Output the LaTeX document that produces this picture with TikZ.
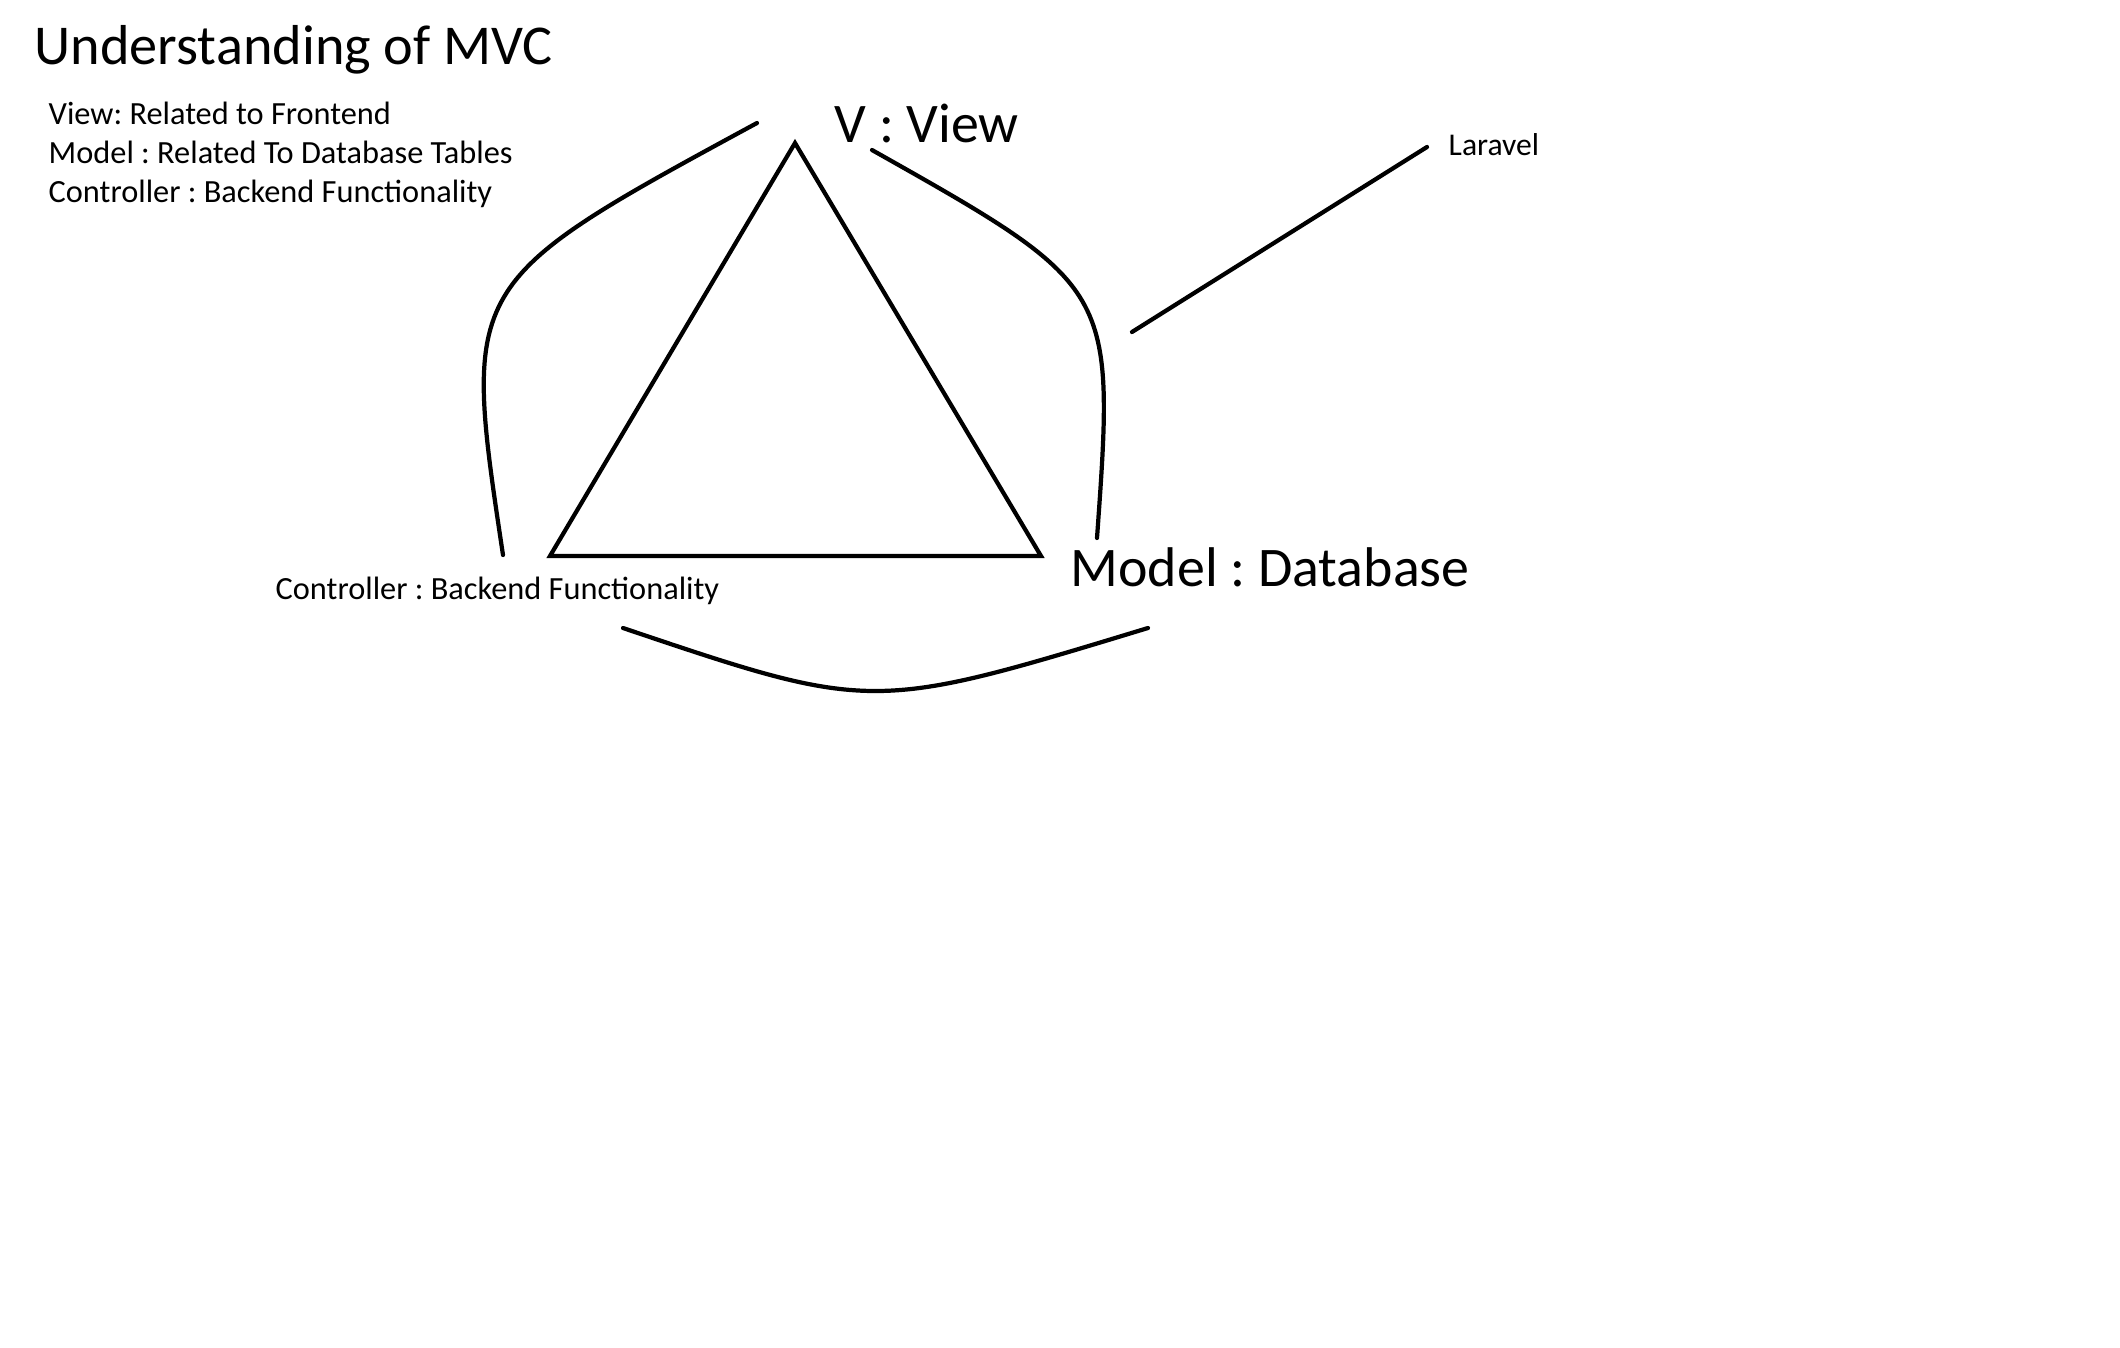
\documentclass[tikz,border=0pt]{standalone}
\usepackage{fontspec}
\setmainfont{Carlito}
\usepackage{tikz}
\frenchspacing

\begin{document}
\begin{tikzpicture}[x=0.01cm,y=-0.01cm,
  big/.style={anchor=base west,inner sep=0pt,font=\fontsize{15.9pt}{18pt}\selectfont},
  small/.style={anchor=base west,inner sep=0pt,font=\fontsize{9.2pt}{11pt}\selectfont},
  pen/.style={line width=1.2pt,line cap=round}]
\useasboundingbox (0,0) rectangle (2120,1348);
\node[big,font=\fontsize{16pt}{18pt}\selectfont] (T) at (34,64) {Understanding of MVC};
\node[small] (v) at (48,124) {View: Related to Frontend};
\node[small] (m) at (48,163) {Model : Related To Database Tables};
\node[small] (c) at (48,202) {Controller : Backend Functionality};
\node[big] (V) at (834,142) {V : View};
\node[big] (M) at (1070,586) {Model : Database};
\node[small] (C) at (275,599) {Controller : Backend Functionality};
\node[small,font=\fontsize{9pt}{11pt}\selectfont] (L) at (1448,155) {Laravel};
\coordinate (1) at (795,143);
\coordinate (2) at (550,556);
\coordinate (3) at (1041,556);
\coordinate (a) at (757,123);
\coordinate (b) at (503,555);
\coordinate (p) at (872,150);
\coordinate (q) at (1097,538);
\coordinate (s) at (623,628);
\coordinate (t) at (1148,628);
\coordinate (x) at (1132,332);
\coordinate (y) at (1427,147);
\draw[pen,line join=miter] (1) -- (2) -- (3) -- cycle;
\draw[pen] (a) .. controls (462,283) .. (b);
\draw[pen] (p) .. controls (1115,287) .. (q);
\draw[pen] (s) .. controls (872,712) .. (t);
\draw[pen] (x) -- (y);
\end{tikzpicture}
\end{document}
